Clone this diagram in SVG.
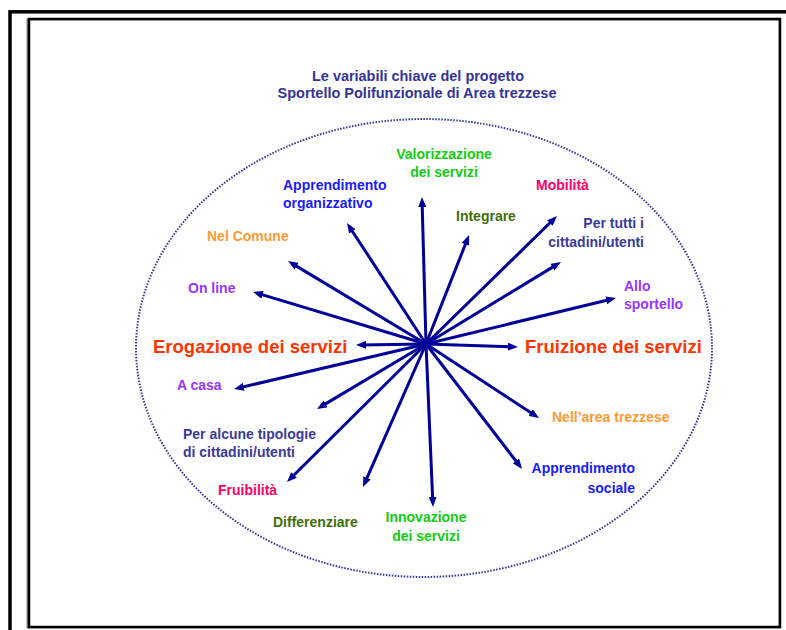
<svg xmlns="http://www.w3.org/2000/svg" width="786" height="630" viewBox="0 0 786 630">
<style>
text{font-family:"Liberation Sans",Arial,Helvetica,sans-serif;font-weight:bold;font-size:14px}
.t{fill:#333399;font-size:14px}
.big{font-size:18.5px;fill:#ff3300}
.green{fill:#11cc11}
.dgreen{fill:#3d6e0a}
.blue{fill:#1a1aff}
.slate{fill:#3a3a9a}
.orange{fill:#ff9933}
.purple{fill:#9933ff}
.pink{fill:#ff0066}
.arr{stroke:#000099;stroke-width:3;fill:none;marker-end:url(#ah)}
</style>
<defs>
<marker id="ah" markerUnits="userSpaceOnUse" viewBox="0 0 10 8" markerWidth="10" markerHeight="8" refX="5" refY="4" orient="auto">
<path d="M0,0 L10,4 L0,8 z" fill="#000099"/>
</marker>
</defs>
<rect x="0" y="0" width="786" height="630" fill="#ffffff"/>
<g id="frame">
<rect x="10" y="11.8" width="790" height="640" fill="none" stroke="#000" stroke-width="3.5"/>
<rect x="27.5" y="19.5" width="752" height="608" fill="none" stroke="#888" stroke-width="2"/>
<rect x="29" y="19" width="751" height="608" fill="none" stroke="#000" stroke-width="2.5"/>
</g>
<g id="title">
<text class="t" x="418" y="81" text-anchor="middle" textLength="212" lengthAdjust="spacingAndGlyphs">Le variabili chiave del progetto</text>
<text class="t" x="417" y="97.5" text-anchor="middle" textLength="279" lengthAdjust="spacingAndGlyphs">Sportello Polifunzionale di Area trezzese</text>
</g>
<g id="ellipse">
<ellipse cx="424" cy="348" rx="288" ry="229" fill="none" stroke="#333399" stroke-width="2" stroke-dasharray="1.5 1.5"/>
</g>
<g id="connectors">
<line class="arr" x1="426" y1="344" x2="422.1" y2="202"/>
<line class="arr" x1="426" y1="344" x2="349.7" y2="227.2"/>
<line class="arr" x1="426" y1="344" x2="292.3" y2="263.6"/>
<line class="arr" x1="426" y1="344" x2="257.8" y2="293.4"/>
<line class="arr" x1="426" y1="344" x2="467.2" y2="239.7"/>
<line class="arr" x1="426" y1="344" x2="553.4" y2="219.5"/>
<line class="arr" x1="426" y1="344" x2="556.7" y2="264.6"/>
<line class="arr" x1="426" y1="344" x2="611.1" y2="299.2"/>
<line class="arr" x1="426" y1="344" x2="361" y2="344.9"/>
<line class="arr" x1="426" y1="344" x2="513" y2="346.8"/>
<line class="arr" x1="426" y1="344" x2="238.9" y2="387.9"/>
<line class="arr" x1="426" y1="344" x2="321.3" y2="406.4"/>
<line class="arr" x1="426" y1="344" x2="290.5" y2="478.5"/>
<line class="arr" x1="426" y1="344" x2="365" y2="482.4"/>
<line class="arr" x1="426" y1="344" x2="432.8" y2="502"/>
<line class="arr" x1="426" y1="344" x2="534.8" y2="415.3"/>
<line class="arr" x1="426" y1="344" x2="519" y2="465"/>
</g>
<g id="valorizzazione"><text class="green" x="444" y="159" text-anchor="middle">Valorizzazione</text><text class="green" x="444" y="177" text-anchor="middle">dei servizi</text></g>
<g id="apprendimento-organizzativo"><text class="blue" x="283" y="190">Apprendimento</text><text class="blue" x="283" y="208">organizzativo</text></g>
<g id="nel-comune"><text class="orange" x="207" y="241">Nel Comune</text></g>
<g id="on-line"><text class="purple" x="188" y="293">On line</text></g>
<g id="integrare"><text class="dgreen" x="456" y="221">Integrare</text></g>
<g id="mobilita"><text class="pink" x="536" y="190">Mobilità</text></g>
<g id="per-tutti"><text class="slate" x="644" y="228" text-anchor="end">Per tutti i</text><text class="slate" x="644" y="247" text-anchor="end">cittadini/utenti</text></g>
<g id="allo-sportello"><text class="purple" x="624" y="291">Allo</text><text class="purple" x="624" y="309">sportello</text></g>
<g id="erogazione"><text class="big" x="153" y="353">Erogazione dei servizi</text></g>
<g id="fruizione"><text class="big" x="525" y="353">Fruizione dei servizi</text></g>
<g id="a-casa"><text class="purple" x="177" y="390">A casa</text></g>
<g id="per-alcune"><text class="slate" x="183" y="439">Per alcune tipologie</text><text class="slate" x="183" y="457">di cittadini/utenti</text></g>
<g id="fruibilita"><text class="pink" x="218" y="495">Fruibilità</text></g>
<g id="differenziare"><text class="dgreen" x="273" y="527">Differenziare</text></g>
<g id="innovazione"><text class="green" x="426" y="522" text-anchor="middle">Innovazione</text><text class="green" x="426" y="541" text-anchor="middle">dei servizi</text></g>
<g id="nell-area"><text class="orange" x="552" y="422">Nell’area trezzese</text></g>
<g id="apprendimento-sociale"><text class="blue" x="635" y="473" text-anchor="end">Apprendimento</text><text class="blue" x="635" y="493" text-anchor="end">sociale</text></g>
</svg>
